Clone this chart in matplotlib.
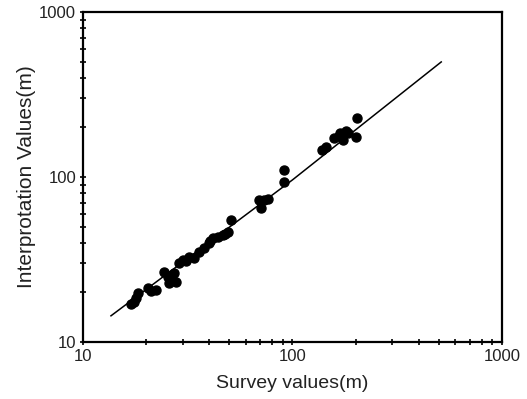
import matplotlib
matplotlib.use("Agg")
import matplotlib.pyplot as plt
from matplotlib.ticker import LogLocator, NullFormatter, FixedLocator

plt.rcParams['font.family'] = ['Liberation Sans', 'DejaVu Sans']

# survey vs interpolation values (m)
survey = [17.5, 18.3, 18.0, 17.0, 20.4, 22.3, 24.3, 25.4, 27.1, 27.7, 25.7, 26.5,
          28.6, 29.9, 32.0, 33.8, 35.7, 37.7, 39.8, 41.6, 43.9, 46.4, 49.0, 47.5,
          50.7, 68.9, 70.4, 76.0, 90.6, 91.0, 139, 144, 157, 169, 175, 185,
          200, 204, 180, 21.0, 31.0, 40.5, 73.0, 166]
interp = [17.5, 19.8, 18.5, 17.0, 21.2, 20.7, 26.6, 24.8, 26.2, 23.1, 22.8, 25.5,
          30.1, 31.4, 32.7, 32.3, 35.1, 37.1, 39.8, 42.7, 43.3, 44.5, 46.4, 45.0,
          54.9, 72.5, 64.9, 73.6, 110, 93.3, 146, 152, 172, 185, 168, 185,
          175, 228, 190, 20.5, 31.0, 41.0, 72.0, 178]

# fitted line
fit_x = [13.6, 100, 513]
fit_y = [14.4, 96, 498]

fig = plt.figure(figsize=(5.27, 3.99), dpi=100)
ax = fig.add_axes([0.1575, 0.143, 0.795, 0.827])

ax.plot(fit_x, fit_y, color='black', lw=1.1)
ax.plot(survey, interp, 'o', color='black', ms=6.5, mec='black')

ax.set_xscale('log')
ax.set_yscale('log')
ax.set_xlim(10, 1000)
ax.set_ylim(10, 1000)

ax.xaxis.set_major_locator(FixedLocator([10, 100, 1000]))
ax.yaxis.set_major_locator(FixedLocator([10, 100, 1000]))
ax.set_xticklabels(['10', '100', '1000'])
ax.set_yticklabels(['10', '100', '1000'])
ax.xaxis.set_minor_locator(LogLocator(base=10, subs=range(2, 10)))
ax.yaxis.set_minor_locator(LogLocator(base=10, subs=range(2, 10)))
ax.xaxis.set_minor_formatter(NullFormatter())
ax.yaxis.set_minor_formatter(NullFormatter())

ax.tick_params(which='both', direction='inout', length=4, width=1.2,
               labelsize=12, colors='black', labelcolor='#222222', pad=3)
for s in ax.spines.values():
    s.set_linewidth(1.6)

ax.set_xlabel('Survey values(m)', fontsize=14, color='#222222', labelpad=8)
ax.set_ylabel('Interprotation Values(m)', fontsize=15, color='#222222', labelpad=2)

fig.savefig('out.png', dpi=100)
